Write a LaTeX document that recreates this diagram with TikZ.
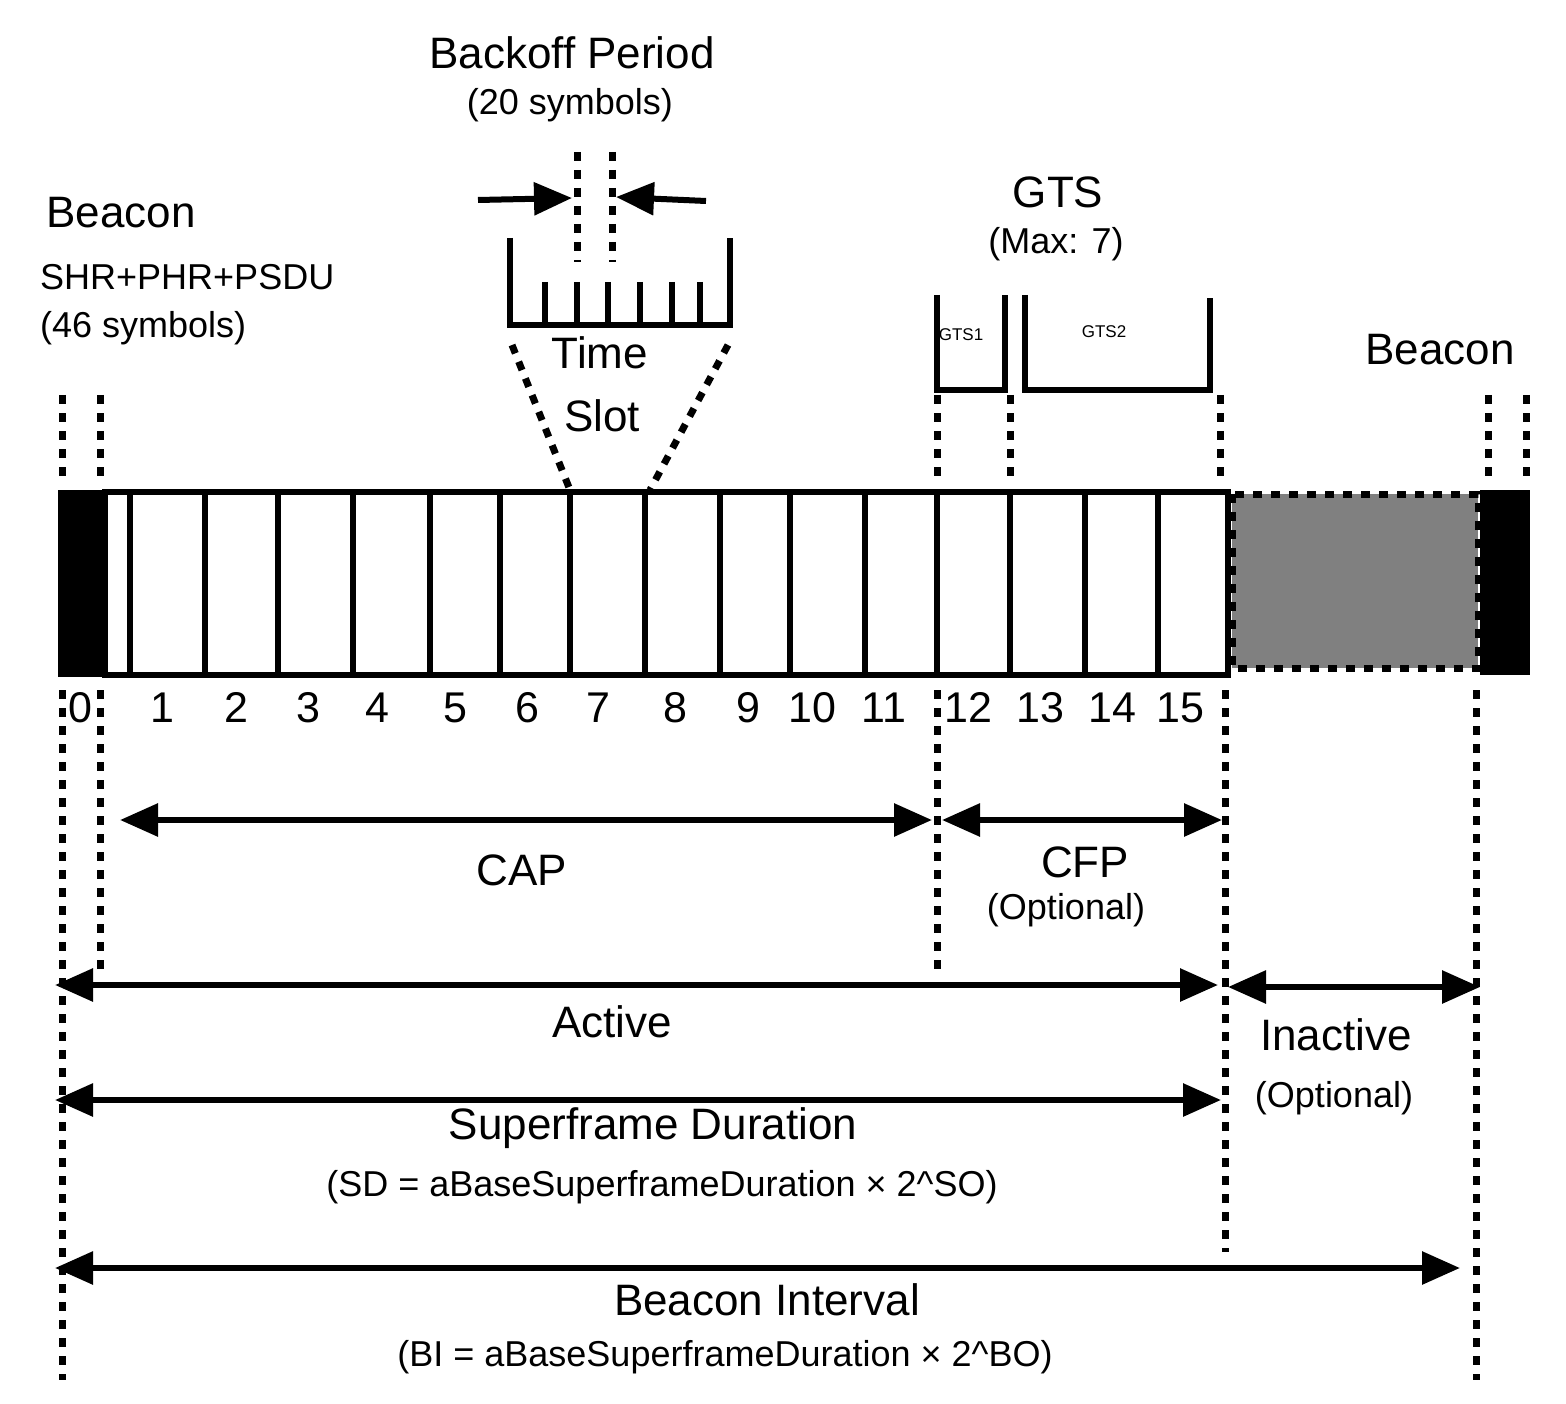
\documentclass[tikz,border=0pt]{standalone}
\usepackage{fontspec}
\setmainfont{Liberation Sans}
\usetikzlibrary{arrows.meta}
\begin{document}
\begin{tikzpicture}[x=1pt,y=-1pt,
 solid line/.style={line width=6pt},
 dots/.style={line width=7pt,dash pattern=on 9pt off 9pt},
 dbl/.style={line width=6pt,{Triangle[length=38pt,width=32pt]}-{Triangle[length=38pt,width=32pt]}},
 big/.style={font=\fontsize{44}{50}\selectfont,inner sep=0pt},
 num/.style={font=\fontsize{43}{49}\selectfont,inner sep=0pt,anchor=base},
 med/.style={font=\fontsize{36}{41}\selectfont,inner sep=0pt},
 tiny/.style={font=\fontsize{17}{19}\selectfont,inner sep=0pt}]
\useasboundingbox (0,0) rectangle (1566,1404);
% main bar
\fill (58,490) rectangle (105,677);
\draw[solid line] (105,492) rectangle (1228,675);
\foreach \x in {130,205,278,353,430,500,570,645,720,790,865,937,1010,1085,1158}
  \draw[solid line] (\x,492) -- (\x,675);
\fill[gray] (1232,494) rectangle (1478,668);
\draw[dots] (1232,494) rectangle (1478,668);
\fill (1480,490) rectangle (1530,675);
% numbers
\foreach \x/\n in {80/0,162/1,236/2,308/3,377/4,455/5,527/6,598/7,675/8,748/9,812/10,884/11,968/12,1040/13,1112/14,1180/15}
  \node[num] (n\n) at (\x,722) {\n};
% dotted verticals
\foreach \x in {62,100,937,1010,1220,1488,1526}
  \draw[dots] (\x,395) -- (\x,480);
\draw[dots] (62,690) -- (62,1380);
\draw[dots] (100,690) -- (100,970);
\draw[dots] (937,690) -- (937,975);
\draw[dots] (1225,690) -- (1225,1252);
\draw[dots] (1476,690) -- (1476,1380);
% backoff comb
\draw[solid line] (510,238) -- (510,325) -- (730,325) -- (730,238);
\foreach \x in {545,577,608,640,672,700} \draw[solid line] (\x,282) -- (\x,325);
\draw[dots] (577,152) -- (577,262);
\draw[dots] (612,152) -- (612,262);
\coordinate (la) at (478,200); \coordinate (lb) at (572,198);
\coordinate (ra) at (706,201); \coordinate (rb) at (616,197);
\draw[line width=6pt,-{Triangle[length=38pt,width=32pt]}] (la) -- (lb);
\draw[line width=6pt,-{Triangle[length=38pt,width=32pt]}] (ra) -- (rb);
\draw[dots] (512,345) -- (570,490);
\draw[dots] (728,345) -- (650,490);
% GTS brackets
\draw[solid line] (937,295) -- (937,390) -- (1005,390) -- (1005,295);
\draw[solid line] (1025,295) -- (1025,390) -- (1210,390) -- (1210,298);
\node[tiny] (g1) at (961,335) {GTS1};
\node[tiny] (g2) at (1104,332) {GTS2};
% labels
\node[big] (bo) at (572,53) {Backoff Period};
\node[med] (bs) at (570,105) {(20 symbols)};
\node[big] (b1) at (121,213) {Beacon};
\node[med,anchor=west] (b2) at (40,277) {SHR+PHR+PSDU};
\node[med,anchor=west] (b3) at (40,328) {(46 symbols)};
\node[big] (ts1) at (600,353) {Time};
\node[big] (ts2) at (602,416) {Slot};
\node[big] (gts) at (1058,192) {GTS};
\node[med] (gm) at (1056,244) {(Max: 7)};
\node[big] (b4) at (1440,350) {Beacon};
% arrows
\coordinate (c1) at (120,820); \coordinate (c2) at (932,820);
\coordinate (f1) at (942,820); \coordinate (f2) at (1222,820);
\coordinate (a1) at (55,985); \coordinate (a2) at (1218,985);
\coordinate (i1) at (1228,987); \coordinate (i2) at (1480,987);
\coordinate (s1) at (55,1100); \coordinate (s2) at (1221,1100);
\coordinate (q1) at (55,1268); \coordinate (q2) at (1460,1268);
\draw[dbl] (c1) -- (c2); \draw[dbl] (f1) -- (f2);
\draw[dbl] (a1) -- (a2); \draw[dbl] (i1) -- (i2);
\draw[dbl] (s1) -- (s2); \draw[dbl] (q1) -- (q2);
\node[big] (cap) at (522,870) {CAP};
\node[big] (cfp) at (1085,862) {CFP};
\node[med] (cfo) at (1066,910) {(Optional)};
\node[big] (act) at (612,1022) {Active};
\node[big] (ina) at (1336,1035) {Inactive};
\node[med] (ino) at (1334,1098) {(Optional)};
\node[big] (sd) at (653,1128) {Superframe Duration};
\node[med] (sdf) at (662,1187) {(SD = aBaseSuperframeDuration × 2\^{}SO)};
\node[big] (bi) at (767,1300) {Beacon Interval};
\node[med] (bif) at (725,1357) {(BI = aBaseSuperframeDuration × 2\^{}BO)};
\end{tikzpicture}
\end{document}
